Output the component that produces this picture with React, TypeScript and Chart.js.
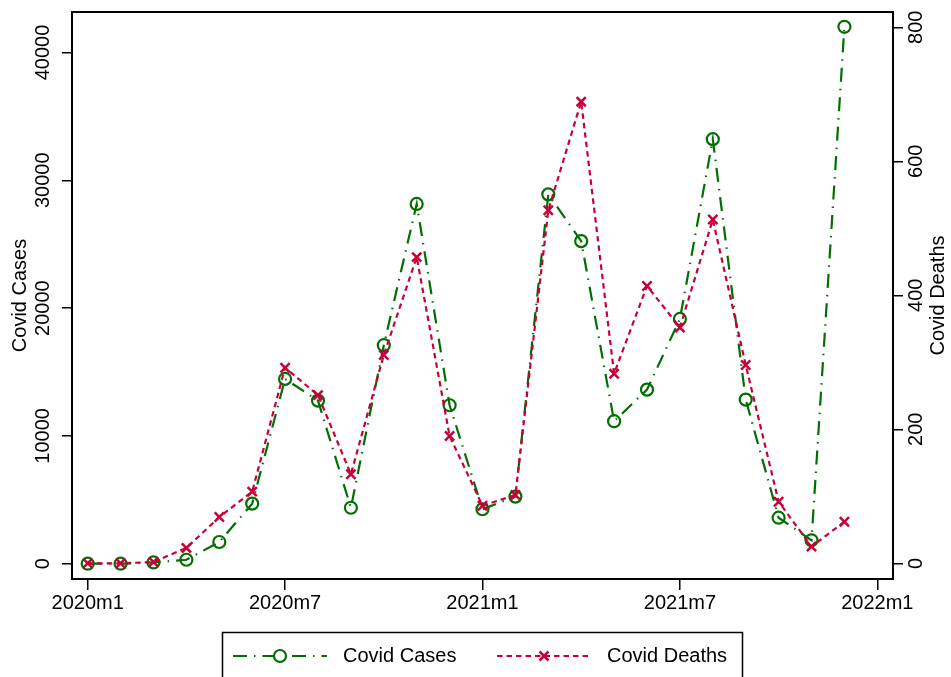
import React, { useEffect, useRef } from "react";
import { Chart, registerables } from "chart.js";

Chart.register(...registerables);

// ---- data ----
const months = [
  "2020m1", "2020m2", "2020m3", "2020m4", "2020m5", "2020m6",
  "2020m7", "2020m8", "2020m9", "2020m10", "2020m11", "2020m12",
  "2021m1", "2021m2", "2021m3", "2021m4", "2021m5", "2021m6",
  "2021m7", "2021m8", "2021m9", "2021m10", "2021m11", "2021m12",
];
const cases = [
  0, 0, 100, 310, 1700, 4700,
  14460, 12760, 4380, 17100, 28150, 12400,
  4260, 5250, 28900, 25240, 11150, 13620,
  19150, 33220, 12840, 3600, 1830, 42010,
];
const deaths = [
  0, 0, 2, 23, 69, 107,
  292, 251, 133, 311, 457, 190,
  86, 102, 527, 689, 283, 414,
  352, 513, 296, 92, 25, 62,
];
const xTickValues = [0, 6, 12, 18, 24];
const xTickLabels = ["2020m1", "2020m7", "2021m1", "2021m7", "2022m1"];
const casesTicks = [0, 10000, 20000, 30000, 40000];
const deathsTicks = [0, 200, 400, 600, 800];
const casesLabel = "Covid Cases";
const deathsLabel = "Covid Deaths";

const GREEN = "rgb(0,110,0)";
const RED = "rgb(200,0,58)";
const FONT = '"Liberation Sans", Arial, Helvetica, sans-serif';
const GREEN_DASH = [14, 7, 1.5, 7];
const RED_DASH = [5.5, 4];

const decorPlugin = {
  id: "decor",
  afterDraw(chart: any) {
    const { ctx, chartArea: a } = chart;
    ctx.save();
    // frame
    ctx.strokeStyle = "#000";
    ctx.lineWidth = 2;
    ctx.setLineDash([]);
    ctx.strokeRect(a.left, a.top, a.right - a.left, a.bottom - a.top);

    // right axis title (reads bottom-to-top)
    ctx.save();
    ctx.fillStyle = "#000";
    ctx.font = `20px ${FONT}`;
    ctx.translate(chart.width - 13, (a.top + a.bottom) / 2);
    ctx.rotate(-Math.PI / 2);
    ctx.textAlign = "center";
    ctx.textBaseline = "middle";
    ctx.fillText(deathsLabel, 0, 0);
    ctx.restore();

    // legend
    const cx = (a.left + a.right) / 2;
    const ly = 656;
    ctx.strokeStyle = "#000";
    ctx.lineWidth = 1.5;
    ctx.strokeRect(cx - 260, 632.5, 520, 60);

    const ds = chart.data.datasets;
    // cases sample
    ctx.strokeStyle = ds[0].borderColor;
    ctx.lineWidth = 2.2;
    ctx.setLineDash(GREEN_DASH);
    ctx.beginPath();
    ctx.moveTo(cx - 249.5, ly);
    ctx.lineTo(cx - 155.5, ly);
    ctx.stroke();
    ctx.setLineDash([]);
    ctx.beginPath();
    ctx.arc(cx - 202.5, ly, 6, 0, Math.PI * 2);
    ctx.fillStyle = "#fff";
    ctx.fill();
    ctx.stroke();

    // deaths sample
    ctx.strokeStyle = ds[1].borderColor;
    ctx.lineWidth = 2.2;
    ctx.setLineDash(RED_DASH);
    ctx.beginPath();
    ctx.moveTo(cx + 14.5, ly);
    ctx.lineTo(cx + 107.5, ly);
    ctx.stroke();
    ctx.setLineDash([]);
    ctx.lineWidth = 2.5;
    const mx = cx + 61.5;
    const r = 4.5;
    ctx.beginPath();
    ctx.moveTo(mx - r, ly - r);
    ctx.lineTo(mx + r, ly + r);
    ctx.moveTo(mx - r, ly + r);
    ctx.lineTo(mx + r, ly - r);
    ctx.stroke();

    ctx.fillStyle = "#000";
    ctx.font = `20px ${FONT}`;
    ctx.textAlign = "left";
    ctx.textBaseline = "middle";
    ctx.fillText(ds[0].label, cx - 139.5, ly);
    ctx.fillText(ds[1].label, cx + 124.5, ly);
    ctx.restore();
  },
};

export default function App() {
  const ref = useRef<HTMLCanvasElement | null>(null);

  useEffect(() => {
    if (!ref.current) return;
    Chart.defaults.font.family = FONT;
    Chart.defaults.color = "#000";
    const chart = new Chart(ref.current, {
      type: "line",
      data: {
        datasets: [
          {
            label: casesLabel,
            data: cases.map((v, i) => ({ x: months.indexOf(months[i]), y: v })),
            yAxisID: "y",
            borderColor: GREEN,
            backgroundColor: "rgba(0,0,0,0)",
            borderWidth: 2.2,
            borderDash: GREEN_DASH,
            pointStyle: "circle",
            pointRadius: 6,
            pointBorderWidth: 2.2,
            pointBorderColor: GREEN,
            pointBackgroundColor: "rgba(255,255,255,0)",
            tension: 0,
            order: 2,
          },
          {
            label: deathsLabel,
            data: deaths.map((v, i) => ({ x: i, y: v })),
            yAxisID: "y1",
            borderColor: RED,
            backgroundColor: "rgba(0,0,0,0)",
            borderWidth: 2.2,
            borderDash: RED_DASH,
            pointStyle: "crossRot",
            pointRadius: 6.5,
            pointBorderWidth: 2.5,
            pointBorderColor: RED,
            tension: 0,
            order: 1,
          },
        ],
      },
      options: {
        animation: false,
        responsive: false,
        devicePixelRatio: 1,
        layout: { padding: { top: 12, left: 0, right: 0, bottom: 0 } },
        plugins: {
          legend: { display: false },
          tooltip: { enabled: false },
        },
        scales: {
          x: {
            type: "linear",
            min: -0.477,
            max: 23 + 1.477,
            afterBuildTicks: (s: any) => {
              s.ticks = xTickValues.map((v) => ({ value: v }));
            },
            afterFit: (s: any) => {
              s.height = 98;
              s.paddingLeft = 0;
              s.paddingRight = 0;
            },
            ticks: {
              autoSkip: false,
              maxRotation: 0,
              minRotation: 0,
              padding: 1,
              font: { size: 20 },
              color: "#000",
              callback: (v: any) => {
                const i = xTickValues.indexOf(Number(v));
                return i >= 0 ? xTickLabels[i] : "";
              },
            },
            grid: {
              display: true,
              drawOnChartArea: false,
              drawTicks: true,
              tickLength: 11,
              color: "#000",
              lineWidth: 1.5,
            },
            border: { display: false },
          },
          y: {
            type: "linear",
            position: "left",
            min: -1197,
            max: 43170,
            afterBuildTicks: (s: any) => {
              s.ticks = casesTicks.map((v) => ({ value: v }));
            },
            afterFit: (s: any) => {
              s.width = 72;
              s.paddingTop = 0;
              s.paddingBottom = 0;
            },
            ticks: {
              autoSkip: false,
              minRotation: 90,
              maxRotation: 90,
              crossAlign: "center",
              padding: -9.2,
              font: { size: 20 },
              color: "#000",
              callback: (v: any) => String(v),
            },
            title: {
              display: true,
              text: casesLabel,
              font: { size: 20 },
              color: "#000",
              padding: { top: 8, bottom: 0 },
            },
            grid: {
              display: true,
              drawOnChartArea: false,
              drawTicks: true,
              tickLength: 10,
              color: "#000",
              lineWidth: 1.5,
            },
            border: { display: false },
          },
          y1: {
            type: "linear",
            position: "right",
            min: -23.4,
            max: 822.8,
            afterBuildTicks: (s: any) => {
              s.ticks = deathsTicks.map((v) => ({ value: v }));
            },
            afterFit: (s: any) => {
              s.width = 58;
              s.paddingTop = 0;
              s.paddingBottom = 0;
            },
            ticks: {
              autoSkip: false,
              minRotation: 90,
              maxRotation: 90,
              crossAlign: "center",
              padding: -3,
              font: { size: 20 },
              color: "#000",
              callback: (v: any) => String(v),
            },
            grid: {
              display: true,
              drawOnChartArea: false,
              drawTicks: true,
              tickLength: 10,
              color: "#000",
              lineWidth: 1.5,
            },
            border: { display: false },
          },
        },
      },
      plugins: [decorPlugin],
    } as any);
    return () => chart.destroy();
  }, []);

  return (
    <div style={{ position: "absolute", left: 0, top: 0, width: 951, height: 677, background: "#fff" }}>
      <canvas ref={ref} width={951} height={677} style={{ display: "block" }} />
    </div>
  );
}
